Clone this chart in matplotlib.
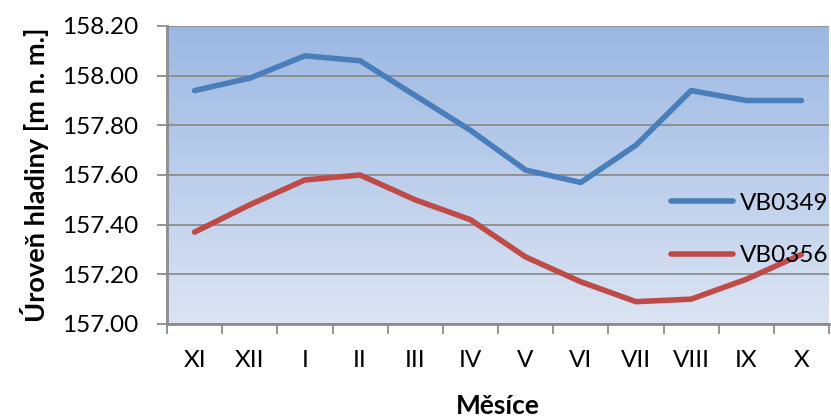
import numpy as np
import matplotlib
matplotlib.use("Agg")
import matplotlib.pyplot as plt
from matplotlib.colors import LinearSegmentedColormap

months = ["XI", "XII", "I", "II", "III", "IV", "V", "VI", "VII", "VIII", "IX", "X"]
vb0349 = [157.94, 157.99, 158.08, 158.06, 157.92, 157.78, 157.62, 157.57, 157.72, 157.94, 157.90, 157.90]
vb0356 = [157.37, 157.48, 157.58, 157.60, 157.50, 157.42, 157.27, 157.17, 157.09, 157.10, 157.18, 157.28]
yticks = [157.00, 157.20, 157.40, 157.60, 157.80, 158.00, 158.20]

plt.rcParams['font.family'] = ['Lato', 'DejaVu Sans']
FS = 17.5

fig = plt.figure(figsize=(8.31, 4.17), dpi=100)
ax = fig.add_axes([167/831, 1-324/417, (829-167)/831, (324-26)/417])

cmap = LinearSegmentedColormap.from_list("g", ["#dce4f3", "#9bb8e3"])
grad = np.linspace(0, 1, 256).reshape(-1, 1)
ax.imshow(grad, cmap=cmap, aspect='auto', extent=[0, 1, 0, 1], origin='lower',
          transform=ax.transAxes, zorder=0)

x = np.arange(len(months))
ax.plot(x, vb0349, color="#4a7ebb", lw=4, solid_capstyle='round', solid_joinstyle='round', label="VB0349", zorder=3)
ax.plot(x, vb0356, color="#be4b48", lw=4, solid_capstyle='round', solid_joinstyle='round', label="VB0356", zorder=3)

ax.set_xlim(-0.5, len(months) - 0.5)
ax.set_ylim(157.0, 158.2)
ax.set_yticks(yticks)
ax.set_yticklabels([f"{v:.2f}" for v in yticks])
ax.grid(axis='y', color='#8c8c8c', lw=1.3, zorder=1)
ax.set_axisbelow(False)

ax.set_xticks(np.arange(-0.5, len(months) + 0.5, 1))
ax.set_xticklabels([])
ax.set_xticks(x, minor=True)
ax.set_xticklabels(months, minor=True)
ax.tick_params(axis='x', which='major', length=7, width=1.3, color='#8c8c8c', direction='out')
ax.tick_params(axis='x', which='minor', length=0, pad=19, labelsize=FS)
ax.tick_params(axis='y', length=7, width=1.3, color='#8c8c8c', pad=14, labelsize=FS)

for s in ['top', 'right']:
    ax.spines[s].set_visible(False)
for s in ['left', 'bottom']:
    ax.spines[s].set_color('#8c8c8c')
    ax.spines[s].set_linewidth(2)

ax.set_ylabel("Úroveň hladiny [m n. m.]", fontsize=19.5, fontweight='bold', labelpad=9)
ax.set_xlabel("Měsíce", fontsize=19, fontweight='bold', labelpad=16)

leg = ax.legend(loc='center left', bbox_to_anchor=(0.762, 0.317), frameon=False,
                fontsize=FS, handlelength=2.55, handletextpad=0.25, labelspacing=1.3,
                borderaxespad=0, borderpad=0)
leg.set_zorder(4)

fig.savefig("out.png", dpi=100)
